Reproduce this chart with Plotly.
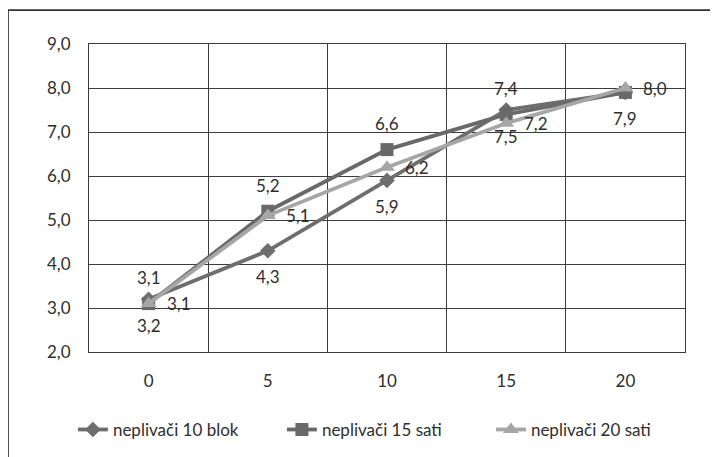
import plotly.graph_objects as go

categories = ["0", "5", "10", "15", "20"]
series_names = ["neplivači 10 blok", "neplivači 15 sati", "neplivači 20 sati"]
s1_values = [3.2, 4.3, 5.9, 7.5, 7.9]
s2_values = [3.1, 5.2, 6.6, 7.4, 7.9]
s3_values = [3.1, 5.1, 6.2, 7.2, 8.0]
s1_labels = ["3,2", "4,3", "5,9", "7,5", "7,9"]
s2_labels = ["3,1", "5,2", "6,6", "7,4", ""]
s3_labels = ["3,1", "5,1", "6,2", "7,2", "8,0"]
y_ticks = [2, 3, 4, 5, 6, 7, 8, 9]

FONT = "Lato, Carlito, Calibri, sans-serif"
TXT = "#2e2e2e"
GRID = "#3c3c3c"
FS = 17

styles = [
    dict(color="#6e6e6e", symbol="diamond", size=12, shift=(0, -26)),
    dict(color="#696969", symbol="square", size=13, shift=(0, 26)),
    dict(color="#a6a6a6", symbol="triangle-up", size=14, shift=(30, 0)),
]

fig = go.Figure()
annotations = []
for name, vals, labs, st in zip(series_names, [s1_values, s2_values, s3_values],
                                [s1_labels, s2_labels, s3_labels], styles):
    fig.add_trace(go.Scatter(
        x=categories, y=vals, name=name, mode="lines+markers",
        line=dict(color=st["color"], width=3.8),
        marker=dict(symbol=st["symbol"], size=st["size"], color=st["color"]),
    ))
    for i, (v, t) in enumerate(zip(vals, labs)):
        if t:
            annotations.append(dict(
                x=i, y=v, text=t, showarrow=False,
                xshift=st["shift"][0], yshift=st["shift"][1],
                font=dict(family=FONT, size=FS, color=TXT),
            ))

fig.update_layout(
    width=718, height=457,
    margin=dict(l=81, r=41, t=36, b=113),
    paper_bgcolor="white", plot_bgcolor="white",
    separators=",.",
    font=dict(family=FONT, size=FS, color=TXT),
    annotations=annotations,
    showlegend=True,
    legend=dict(orientation="h", x=-0.027, xanchor="left", y=-0.253, yanchor="middle",
                font=dict(family=FONT, size=FS, color=TXT),
                entrywidth=164, entrywidthmode="pixels",
                traceorder="normal"),
    shapes=[dict(type="rect", xref="paper", yref="paper",
                 x0=-0.136, x1=1.2, y0=-0.6, y1=1.11,
                 line=dict(color="#333333", width=1.8), layer="below")],
)
fig.update_xaxes(
    type="category", categoryorder="array", categoryarray=categories,
    range=[-0.5, 4.5],
    tickson="boundaries", showgrid=True, gridcolor=GRID, gridwidth=1,
    showline=True, linecolor=GRID, linewidth=1, mirror=True,
    ticks="", ticklabelstandoff=14, tickfont=dict(size=FS, color=TXT),
    zeroline=False,
)
fig.update_yaxes(
    range=[2, 9], tickvals=y_ticks, tickformat=".1f",
    showgrid=True, gridcolor=GRID, gridwidth=1,
    showline=True, linecolor=GRID, linewidth=1, mirror=True,
    ticks="", ticklabelstandoff=14, tickfont=dict(size=FS, color=TXT),
    zeroline=False,
)

fig.write_html("out.html")
